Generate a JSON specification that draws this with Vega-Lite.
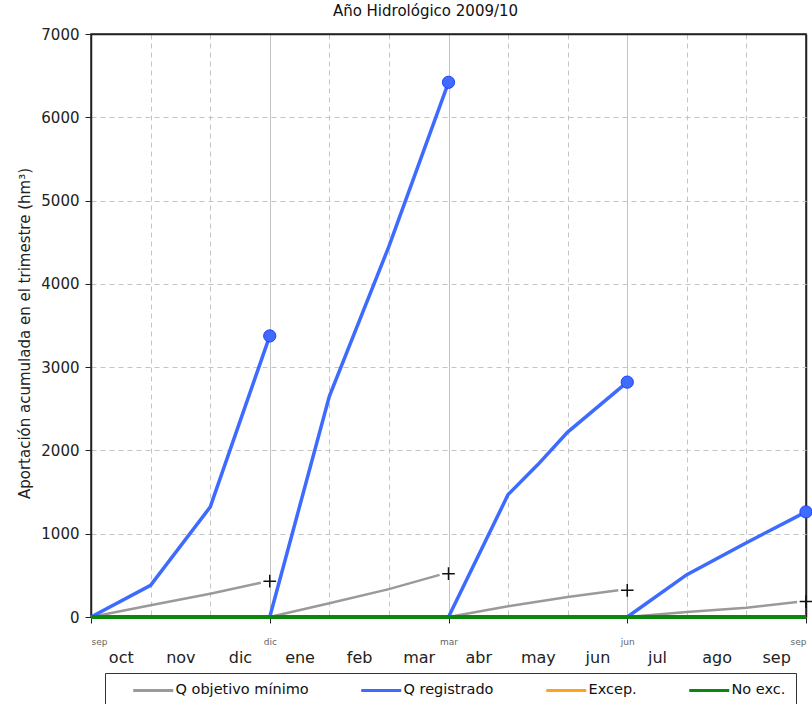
{
  "$schema": "https://vega.github.io/schema/vega-lite/v6.json",
  "width": 715,
  "height": 583,
  "autosize": {"type": "none"},
  "padding": {"left": 91, "top": 34, "right": 6, "bottom": 87},
  "background": "white",
  "title": {"text": "Año Hidrológico 2009/10", "fontSize": 15, "fontWeight": "normal", "font": "DejaVu Sans", "color": "#111111", "anchor": "middle", "dx": -23, "offset": 8},
  "config": {
    "font": "DejaVu Sans",
    "view": {"stroke": "#222222", "strokeWidth": 1.5},
    "axis": {"labelFont": "DejaVu Sans", "titleFont": "DejaVu Sans", "labelColor": "#222222", "titleColor": "#222222"},
    "legend": {"labelFont": "DejaVu Sans"}
  },
  "datasets": {
    "objetivo": [
      {"mes": 0, "hm3": 0, "serie": "Q objetivo mínimo", "trimestre": "T1"},
      {"mes": 1, "hm3": 140, "serie": "Q objetivo mínimo", "trimestre": "T1"},
      {"mes": 2, "hm3": 280, "serie": "Q objetivo mínimo", "trimestre": "T1"},
      {"mes": 2.85, "hm3": 412, "serie": "Q objetivo mínimo", "trimestre": "T1"},
      {"mes": 3, "hm3": 0, "serie": "Q objetivo mínimo", "trimestre": "T2"},
      {"mes": 4, "hm3": 165, "serie": "Q objetivo mínimo", "trimestre": "T2"},
      {"mes": 5, "hm3": 335, "serie": "Q objetivo mínimo", "trimestre": "T2"},
      {"mes": 5.85, "hm3": 506, "serie": "Q objetivo mínimo", "trimestre": "T2"},
      {"mes": 6, "hm3": 0, "serie": "Q objetivo mínimo", "trimestre": "T3"},
      {"mes": 7, "hm3": 130, "serie": "Q objetivo mínimo", "trimestre": "T3"},
      {"mes": 8, "hm3": 240, "serie": "Q objetivo mínimo", "trimestre": "T3"},
      {"mes": 8.85, "hm3": 320, "serie": "Q objetivo mínimo", "trimestre": "T3"},
      {"mes": 9, "hm3": 0, "serie": "Q objetivo mínimo", "trimestre": "T4"},
      {"mes": 10, "hm3": 60, "serie": "Q objetivo mínimo", "trimestre": "T4"},
      {"mes": 11, "hm3": 112, "serie": "Q objetivo mínimo", "trimestre": "T4"},
      {"mes": 11.85, "hm3": 180, "serie": "Q objetivo mínimo", "trimestre": "T4"}
    ],
    "registrado": [
      {"mes": 0, "hm3": 0, "serie": "Q registrado", "trimestre": "T1"},
      {"mes": 1, "hm3": 380, "serie": "Q registrado", "trimestre": "T1"},
      {"mes": 2, "hm3": 1320, "serie": "Q registrado", "trimestre": "T1"},
      {"mes": 3, "hm3": 3375, "serie": "Q registrado", "trimestre": "T1"},
      {"mes": 3, "hm3": 0, "serie": "Q registrado", "trimestre": "T2"},
      {"mes": 4, "hm3": 2650, "serie": "Q registrado", "trimestre": "T2"},
      {"mes": 5, "hm3": 4450, "serie": "Q registrado", "trimestre": "T2"},
      {"mes": 6, "hm3": 6420, "serie": "Q registrado", "trimestre": "T2"},
      {"mes": 6, "hm3": 0, "serie": "Q registrado", "trimestre": "T3"},
      {"mes": 7, "hm3": 1470, "serie": "Q registrado", "trimestre": "T3"},
      {"mes": 7.5, "hm3": 1830, "serie": "Q registrado", "trimestre": "T3"},
      {"mes": 8, "hm3": 2220, "serie": "Q registrado", "trimestre": "T3"},
      {"mes": 9, "hm3": 2820, "serie": "Q registrado", "trimestre": "T3"},
      {"mes": 9, "hm3": 0, "serie": "Q registrado", "trimestre": "T4"},
      {"mes": 10, "hm3": 508, "serie": "Q registrado", "trimestre": "T4"},
      {"mes": 11, "hm3": 892, "serie": "Q registrado", "trimestre": "T4"},
      {"mes": 12, "hm3": 1262, "serie": "Q registrado", "trimestre": "T4"}
    ],
    "noexc": [
      {"mes": 0, "hm3": 0, "serie": "No exc."},
      {"mes": 12, "hm3": 0, "serie": "No exc."}
    ],
    "cierre": [
      {"mes": 3, "registrado": 3375, "objetivo": 430},
      {"mes": 6, "registrado": 6420, "objetivo": 520},
      {"mes": 9, "registrado": 2820, "objetivo": 320},
      {"mes": 12, "registrado": 1262, "objetivo": 185}
    ]
  },
  "layer": [
    {
      "data": {"name": "objetivo"},
      "mark": {"type": "line", "strokeWidth": 2.5},
      "encoding": {
        "x": {"field": "mes", "type": "quantitative", "scale": {"domain": [0, 12], "nice": false, "zero": false},
          "axis": {"orient": "bottom", "values": [1, 2, 4, 5, 7, 8, 10, 11], "grid": true, "gridDash": [5, 4], "gridColor": "#c4c4c4", "labels": false, "ticks": false, "domain": false, "title": null}},
        "y": {"field": "hm3", "type": "quantitative", "title": "Aportación acumulada en el trimestre (hm³)", "scale": {"domain": [0, 7000], "nice": false},
          "axis": {"values": [0, 1000, 2000, 3000, 4000, 5000, 6000, 7000], "format": "d", "grid": true,
            "gridDash": {"condition": {"test": "datum.value == 7000", "value": []}, "value": [5, 4]},
            "gridColor": {"condition": {"test": "datum.value == 7000", "value": "#222222"}, "value": "#c4c4c4"},
            "gridWidth": {"condition": {"test": "datum.value == 7000", "value": 1.5}, "value": 1},
            "titleFontSize": 15, "titleFontWeight": "normal", "labelFontSize": 15, "tickSize": 6, "tickColor": "#222222", "domainColor": "#222222", "domainWidth": 1.5, "labelPadding": 6, "titleX": -59, "titleY": 299}},
        "color": {"field": "serie", "type": "nominal",
          "scale": {"domain": ["Q objetivo mínimo", "Q registrado", "Excep.", "No exc."], "range": ["#9a9a9a", "#3d6bff", "#ffa31a", "#0b870b"]},
          "legend": {"orient": "none", "legendX": 14, "legendY": 639, "direction": "horizontal", "title": null, "symbolType": "M-4,0L4,0", "symbolSize": 100, "symbolStrokeWidth": 3, "labelFontSize": 14.5, "labelColor": "#111111", "labelOffset": 15, "padding": 10, "strokeColor": "#333333", "fillColor": "white", "columnPadding": 34, "symbolOffset": 31}},
        "detail": {"field": "trimestre"}
      }
    },
    {
      "data": {"name": "registrado"},
      "mark": {"type": "line", "strokeWidth": 3.5},
      "encoding": {
        "x": {"field": "mes", "type": "quantitative",
          "axis": {"orient": "bottom", "values": [0, 3, 6, 9, 12], "grid": true,
            "gridColor": {"condition": {"test": "datum.value == 12", "value": "#222222"}, "value": "#c4c4c4"},
            "gridWidth": {"condition": {"test": "datum.value == 12", "value": 1.5}, "value": 1},
            "labelExpr": "datum.value == 0 || datum.value == 12 ? 'sep' : datum.value == 3 ? 'dic' : datum.value == 6 ? 'mar' : 'jun'", "tickSize": 6, "tickColor": "#222222", "domain": false, "labelFontSize": 9, "labelColor": "#666666", "labelPadding": 14, "labelBaseline": "top", "labelFlush": true, "labelOverlap": false, "title": null}},
        "y": {"field": "hm3", "type": "quantitative", "title": "Aportación acumulada en el trimestre (hm³)"},
        "color": {"field": "serie", "type": "nominal"},
        "detail": {"field": "trimestre"}
      }
    },
    {
      "data": {"name": "noexc"},
      "mark": {"type": "line", "strokeWidth": 4},
      "encoding": {
        "x": {"field": "mes", "type": "quantitative",
          "axis": {"orient": "bottom", "values": [0.5, 1.5, 2.5, 3.5, 4.5, 5.5, 6.5, 7.5, 8.5, 9.5, 10.5, 11.5], "labelExpr": "['oct','nov','dic','ene','feb','mar','abr','may','jun','jul','ago','sep'][floor(datum.value)]", "grid": false, "ticks": false, "tickSize": 0, "domain": false, "labelFontSize": 16, "labelColor": "#222222", "labelPadding": 32, "labelBaseline": "top", "labelFlush": false, "labelOverlap": false, "title": null}},
        "y": {"field": "hm3", "type": "quantitative", "title": "Aportación acumulada en el trimestre (hm³)"},
        "color": {"field": "serie", "type": "nominal"}
      }
    },
    {
      "data": {"name": "cierre"},
      "mark": {"type": "point", "shape": "circle", "filled": true, "size": 150, "fill": "#3f6cff", "stroke": "#1f3fff", "strokeWidth": 1, "opacity": 1},
      "encoding": {
        "x": {"field": "mes", "type": "quantitative", "axis": null},
        "y": {"field": "registrado", "type": "quantitative", "title": "Aportación acumulada en el trimestre (hm³)"}
      }
    },
    {
      "data": {"name": "cierre"},
      "mark": {"type": "point", "shape": "M-1,0L1,0M0,-1L0,1", "filled": false, "stroke": "#111111", "strokeWidth": 1.5, "size": 160, "opacity": 1},
      "encoding": {
        "x": {"field": "mes", "type": "quantitative", "axis": null},
        "y": {"field": "objetivo", "type": "quantitative", "title": "Aportación acumulada en el trimestre (hm³)"}
      }
    }
  ],
  "resolve": {"axis": {"x": "independent"}}
}
